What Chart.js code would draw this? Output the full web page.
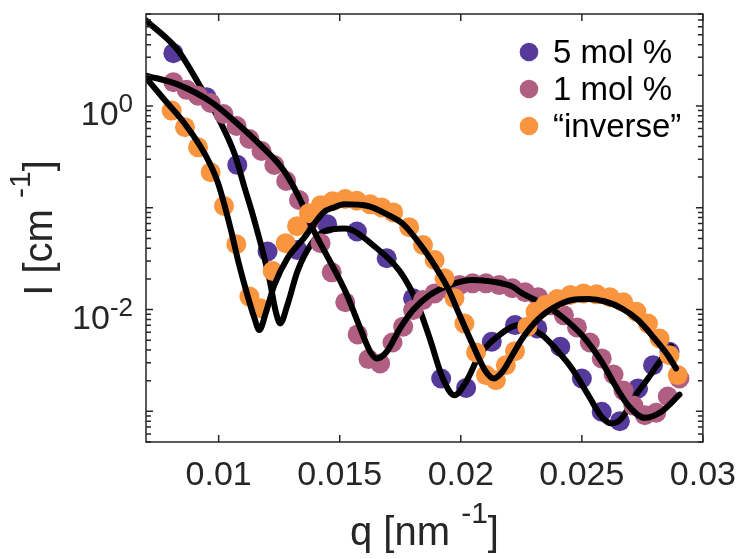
<!DOCTYPE html>
<html>
<head>
<meta charset="utf-8">
<script src="https://cdn.jsdelivr.net/npm/chart.js@4.4.1/dist/chart.umd.min.js"></script>
<style>
  html, body { margin: 0; padding: 0; background: #fff; }
  #wrap { width: 749px; height: 559px; }
</style>
</head>
<body>
<div id="wrap"><canvas id="saxs" width="749" height="559"></canvas></div>
<script>
const q5 = [0.00813, 0.0095, 0.01077, 0.01202, 0.01325, 0.01448, 0.01571, 0.01694, 0.01803, 0.01919, 0.02022,
  0.02128, 0.02224, 0.02316, 0.02411, 0.0250, 0.02582, 0.02657, 0.02732, 0.02794, 0.02862];
const I5 = [3.30, 1.22, 0.264, 0.0372, 0.0385, 0.069, 0.0585, 0.0319, 0.0129, 0.0021, 0.0017,
  0.00483, 0.00704, 0.00653, 0.00431, 0.0021, 0.00099, 0.0008, 0.00168, 0.00284, 0.00385];

const q1 = [0.00813, 0.00868, 0.00915, 0.00967, 0.0102, 0.01074, 0.01127, 0.01177, 0.0123, 0.01279, 0.01332,
  0.01377, 0.01421, 0.01467, 0.01523, 0.01574, 0.01619, 0.01667, 0.01718, 0.01762, 0.01803, 0.01844,
  0.01892, 0.0194, 0.01995, 0.02049, 0.02104, 0.02159, 0.02213, 0.02266, 0.0232, 0.02373, 0.02426,
  0.0248, 0.02533, 0.02582, 0.02631, 0.02672, 0.02713, 0.0276, 0.02807, 0.02855, 0.02903];
const I1 = [1.71, 1.44, 1.26, 1.07, 0.834, 0.636, 0.473, 0.361, 0.263, 0.183, 0.119,
  0.0755, 0.0449, 0.0232, 0.0118, 0.0057, 0.00326, 0.00295, 0.00475, 0.00679, 0.00989, 0.0124,
  0.0144, 0.0162, 0.0174, 0.0181, 0.0181, 0.0174, 0.0162, 0.0148, 0.0132, 0.011, 0.00877,
  0.00668, 0.00475, 0.00331, 0.0023, 0.0016, 0.00114, 0.000916, 0.00097, 0.0014, 0.0021];

const qInv = [0.00806, 0.00861, 0.00915, 0.00967, 0.01022, 0.01073, 0.01127, 0.01172, 0.01223, 0.01277, 0.01324,
  0.01373, 0.01422, 0.01471, 0.01523, 0.01571, 0.01626, 0.01673, 0.01721, 0.01787, 0.01844, 0.01892,
  0.01933, 0.01974, 0.02015, 0.02063, 0.02104, 0.02145, 0.02186, 0.02224, 0.02275, 0.02309, 0.0235,
  0.02398, 0.02452, 0.02507, 0.02561, 0.02616, 0.02671, 0.02725, 0.02773, 0.02821, 0.02862, 0.02896];
const IInv = [0.90, 0.617, 0.392, 0.223, 0.104, 0.0438, 0.0134, 0.0103, 0.0239, 0.0449, 0.0659,
  0.0885, 0.106, 0.116, 0.122, 0.117, 0.108, 0.1007, 0.09, 0.0644, 0.0431, 0.0307,
  0.0203, 0.0129, 0.0073, 0.00379, 0.00227, 0.00202, 0.00284, 0.0039, 0.00679, 0.00953, 0.0111,
  0.0127, 0.0139, 0.0144, 0.0141, 0.0132, 0.0118, 0.00953, 0.0073, 0.0052, 0.00356, 0.00227];

// model fits (black lines)
const fitQ5 = [0.007, 0.00833, 0.00922, 0.01011, 0.01066, 0.01107, 0.01148, 0.01209, 0.01236, 0.01254, 0.01284,
  0.01325, 0.0138, 0.01434, 0.0152, 0.01653, 0.01749, 0.01817, 0.01872, 0.01926, 0.01974, 0.02022,
  0.02077, 0.02159, 0.02241, 0.02336, 0.02391, 0.02459, 0.02527, 0.02582, 0.02623, 0.02664, 0.02718,
  0.02773, 0.02821, 0.02869];
const fitI5 = [6.91, 3.50, 1.585, 0.665, 0.337, 0.158, 0.0743, 0.0203, 0.00953, 0.00731, 0.0111,
  0.0236, 0.0431, 0.0585, 0.0625, 0.040, 0.0236, 0.012, 0.0052, 0.0021, 0.00144, 0.00195,
  0.00356, 0.00561, 0.00704, 0.00561, 0.00415, 0.00264, 0.00144, 0.00088, 0.00076, 0.00085, 0.00139,
  0.0021, 0.00307, 0.00434];

const fitQ1 = [0.007, 0.00833, 0.0097, 0.01079, 0.01175, 0.0127, 0.01339, 0.0138, 0.01426, 0.01475, 0.0153,
  0.01585, 0.01626, 0.01653, 0.01694, 0.01749, 0.01803, 0.01872, 0.01954, 0.02049, 0.02131, 0.02213,
  0.02254, 0.02336, 0.02418, 0.025, 0.02582, 0.02637, 0.02691, 0.0276, 0.02828, 0.02903];
const fitI1 = [1.99, 1.62, 1.09, 0.665, 0.407, 0.231, 0.117, 0.069, 0.0419, 0.0255, 0.0139,
  0.00653, 0.00385, 0.00331, 0.00385, 0.00653, 0.00989, 0.0139, 0.0174, 0.0195, 0.0188, 0.0168,
  0.0144, 0.0115, 0.0085, 0.00561, 0.00307, 0.00181, 0.00115, 0.000863, 0.00099, 0.00146];

const fitQInv = [0.007, 0.00779, 0.00861, 0.00943, 0.00996, 0.01049, 0.01082, 0.01119, 0.01148, 0.01168, 0.01196,
  0.0123, 0.01284, 0.01352, 0.01434, 0.01475, 0.01519, 0.01612, 0.01694, 0.01762, 0.01844, 0.01899,
  0.01947, 0.01995, 0.0205, 0.02104, 0.02138, 0.02172, 0.02213, 0.02254, 0.02323, 0.02391, 0.02459,
  0.02527, 0.02596, 0.02664, 0.02732, 0.028, 0.02855, 0.02889];
const fitIInv = [1.89, 1.13, 0.665, 0.337, 0.179, 0.063, 0.0292, 0.0138, 0.0082, 0.00628, 0.00953,
  0.0174, 0.0319, 0.0502, 0.0905, 0.1007, 0.108, 0.1045, 0.0865, 0.069, 0.040, 0.0255,
  0.0162, 0.00883, 0.00448, 0.00245, 0.0021, 0.00245, 0.00356, 0.0052, 0.0082, 0.0107, 0.0124,
  0.0127, 0.012, 0.0103, 0.00788, 0.0052, 0.00356, 0.00264];

const seriesNames = ['5 mol %', '1 mol %', '\u201Cinverse\u201D'];
const seriesColors = ['#553a9c', '#b05e82', '#f9943f'];

const xTickVals = [0.01, 0.015, 0.02, 0.025, 0.03];
const xTickLabels = ['0.01', '0.015', '0.02', '0.025', '0.03'];
const yLabelVals = [1e-2, 1e0];
const yLabelExps = ['-2', '0'];

const FONT = "'Liberation Sans', Arial, Helvetica, sans-serif";
const axisColor = '#262626';

function pts(qs, Is) {
  return qs.map((q, i) => ({ x: q, y: Is[i] }));
}

function dots(i, qs, Is, order) {
  return {
    label: seriesNames[i],
    data: pts(qs, Is),
    showLine: false,
    pointRadius: 10,
    pointBorderWidth: 0,
    pointBackgroundColor: seriesColors[i],
    pointBorderColor: seriesColors[i],
    order: order
  };
}

function fit(qs, Is, order) {
  return {
    label: 'fit',
    data: pts(qs, Is),
    showLine: true,
    pointRadius: 0,
    borderColor: '#000',
    borderWidth: 6,
    borderJoinStyle: 'round',
    borderCapStyle: 'round',
    cubicInterpolationMode: 'monotone',
    order: order
  };
}

// draws text runs with superscripts
function drawRuns(ctx, runs, x, y, centered) {
  let total = 0;
  runs.forEach(r => {
    ctx.font = r.size + 'px ' + FONT;
    r.w = ctx.measureText(r.t).width;
    total += r.w;
  });
  let cx = centered ? x - total / 2 : x - total;
  runs.forEach(r => {
    ctx.font = r.size + 'px ' + FONT;
    ctx.fillText(r.t, cx, y - (r.up || 0));
    cx += r.w;
  });
}

const matlabAxes = {
  id: 'matlabAxes',
  afterDraw(chart) {
    const ctx = chart.ctx;
    const a = chart.chartArea;
    const xs = chart.scales.x, ys = chart.scales.y;
    ctx.save();

    // box and inward ticks
    ctx.strokeStyle = axisColor;
    ctx.lineWidth = 1.5;
    ctx.beginPath();
    xTickVals.forEach(v => {
      const px = xs.getPixelForValue(v);
      ctx.moveTo(px, a.bottom); ctx.lineTo(px, a.bottom - 7);
      ctx.moveTo(px, a.top); ctx.lineTo(px, a.top + 7);
    });
    for (let e = -4; e <= 1; e++) {
      for (let m = 1; m <= 9; m++) {
        const v = m * Math.pow(10, e);
        if (v < ys.min || v > ys.max) continue;
        const py = ys.getPixelForValue(v);
        const len = m === 1 ? 7 : 5;
        ctx.moveTo(a.left, py); ctx.lineTo(a.left + len, py);
        ctx.moveTo(a.right, py); ctx.lineTo(a.right - len, py);
      }
    }
    ctx.stroke();
    ctx.strokeRect(a.left, a.top, a.right - a.left, a.bottom - a.top);

    // y tick labels 10^n
    ctx.fillStyle = axisColor;
    ctx.textAlign = 'left';
    ctx.textBaseline = 'alphabetic';
    yLabelVals.forEach((v, i) => {
      const py = ys.getPixelForValue(v);
      drawRuns(ctx, [
        { t: '10', size: 34 },
        { t: yLabelExps[i], size: 26, up: 13 }
      ], a.left - 13, py + 19, false);
    });

    // axis titles
    drawRuns(ctx, [
      { t: 'q [nm ', size: 40 },
      { t: '-1', size: 30, up: 22 },
      { t: ']', size: 40 }
    ], (a.left + a.right) / 2, 545, true);

    ctx.save();
    ctx.translate(52, (a.top + a.bottom) / 2);
    ctx.rotate(-Math.PI / 2);
    drawRuns(ctx, [
      { t: 'I [cm ', size: 40 },
      { t: '-1', size: 30, up: 22 },
      { t: ']', size: 40 }
    ], 0, 0, true);
    ctx.restore();

    // legend
    seriesNames.forEach((name, i) => {
      const ly = 52 + 37 * i;
      ctx.beginPath();
      ctx.arc(529, ly, 9.3, 0, Math.PI * 2);
      ctx.fillStyle = seriesColors[i];
      ctx.fill();
      ctx.fillStyle = '#000';
      ctx.font = '33px ' + FONT;
      ctx.fillText(name, 553, ly + 11);
    });

    ctx.restore();
  }
};

new Chart(document.getElementById('saxs'), {
  type: 'line',
  data: {
    datasets: [
      dots(0, q5, I5, 6),
      fit(fitQ5, fitI5, 5),
      dots(1, q1, I1, 4),
      fit(fitQ1, fitI1, 3),
      dots(2, qInv, IInv, 2),
      fit(fitQInv, fitIInv, 1)
    ]
  },
  options: {
    responsive: false,
    animation: false,
    events: [],
    layout: { padding: { top: 14, right: 40, left: 0, bottom: 0 } },
    plugins: {
      legend: { display: false },
      tooltip: { enabled: false },
      title: { display: false }
    },
    scales: {
      x: {
        type: 'linear',
        min: 0.007,
        max: 0.03,
        grid: { display: false, drawTicks: false },
        border: { display: false },
        ticks: {
          autoSkip: false,
          maxRotation: 0,
          padding: 13,
          color: axisColor,
          font: { family: FONT, size: 34 },
          callback: (v, i) => xTickLabels[i]
        },
        afterBuildTicks: s => { s.ticks = xTickVals.map(v => ({ value: v })); },
        afterFit: s => { s.height = 117; }
      },
      y: {
        type: 'logarithmic',
        min: 5e-4,
        max: 8,
        grid: { display: false, drawTicks: false },
        border: { display: false },
        ticks: { display: false },
        afterFit: s => { s.width = 146; }
      }
    }
  },
  plugins: [matlabAxes]
});
</script>
</body>
</html>
